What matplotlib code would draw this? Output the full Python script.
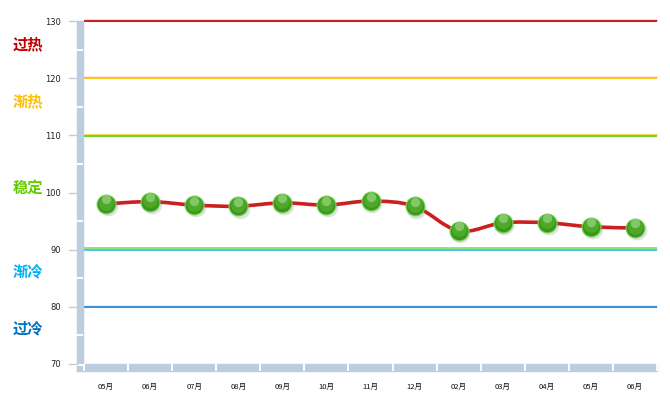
import numpy as np
import matplotlib
matplotlib.use("Agg")
import matplotlib.pyplot as plt
from matplotlib.path import Path
from matplotlib.patches import PathPatch, Rectangle

plt.rcParams['font.family'] = ['Noto Sans CJK SC', 'DejaVu Sans']

# data
months = ['05月', '06月', '07月', '08月', '09月', '10月', '11月', '12月',
          '02月', '03月', '04月', '05月', '06月']
values = [98.0, 98.4, 97.8, 97.6, 98.2, 97.8, 98.5, 97.6,
          93.3, 94.7, 94.7, 94.0, 93.8]

levels = [130, 120, 110, 90, 80]
level_colors = ['#cc1f1f', '#ffc41a', '#66d633', '#4cc6f0', '#3d8fdb']
level_tops = ['#f08080', '#f0a0a0', '#ffe060', '#a8e890', '#a8d0f0']

zones = ['过热', '渐热', '稳定', '渐冷', '过冷']
zone_y = [126.1, 116.2, 101.0, 86.4, 76.4]
zone_colors = ['#c00000', '#ffc000', '#66cc00', '#00b0f0', '#0070c0']

W, H = 670, 402
fig = plt.figure(figsize=(W / 100, H / 100), dpi=100)
ax = fig.add_axes([84 / W, 1 - 365 / H, (657 - 84) / W, (365 - 22) / H])
ax.set_xlim(0, len(months))
ax.set_ylim(70, 130)
ax.axis('off')

# threshold lines
for lv, c, top in zip(levels, level_colors, level_tops):
    ax.plot([0, len(months)], [lv + 0.17, lv + 0.17], color=top, lw=1.0, zorder=2,
            solid_capstyle='butt', clip_on=False)
    ax.plot([0, len(months)], [lv - 0.05, lv - 0.05], color=c, lw=1.5, zorder=2,
            solid_capstyle='butt', clip_on=False)
ax.plot([0, len(months)], [90.3, 90.3], color='#88dd55', lw=1.2, zorder=2)

# left wall and bottom floor, split by white gaps
wall = '#bccddf'
fig.patches.append(Rectangle((77 / W, (H - 372) / H), 6 / W, 350 / H,
                             transform=fig.transFigure, color=wall, zorder=0))
fig.patches.append(Rectangle((77 / W, (H - 372) / H), 580 / W, 7 / H,
                             transform=fig.transFigure, color=wall, zorder=0))
for y0 in range(75, 130, 10):
    py = ax.transData.transform((0, y0))[1]
    fig.lines.append(plt.Line2D([77 / W, 83 / W], [py / H, py / H],
                                transform=fig.transFigure, color='white', lw=1.4,
                                solid_capstyle='butt'))
fig.lines.append(plt.Line2D([77 / W, 83 / W], [(H - 366) / H, (H - 366) / H],
                            transform=fig.transFigure, color='white', lw=1.4))
for i in range(len(months) + 1):
    px = ax.transData.transform((i, 0))[0]
    fig.lines.append(plt.Line2D([px / W, px / W], [(H - 372) / H, (H - 365) / H],
                                transform=fig.transFigure, color='white', lw=1.4,
                                solid_capstyle='butt'))

# y ticks
for v in range(70, 131, 10):
    py = ax.transData.transform((0, v))[1]
    fig.lines.append(plt.Line2D([69 / W, 77 / W], [py / H, py / H],
                                transform=fig.transFigure, color='#bccddf', lw=1))
    fig.text(61 / W, py / H, str(v), ha='right', va='center', fontsize=6,
             family='DejaVu Sans', color='#222222')

# x labels
xs = np.arange(len(months)) + 0.5
for x, m in zip(xs, months):
    px = ax.transData.transform((x, 0))[0]
    fig.text(px / W, (H - 387) / H, m, ha='center', va='center', fontsize=5.5,
             color='#111111')

# zone labels
for z, zy, c in zip(zones, zone_y, zone_colors):
    py = ax.transData.transform((0, zy))[1]
    fig.text(13 / W, py / H, z, ha='left', va='center', fontsize=11,
             fontweight='bold', color=c)

# smooth line via Catmull-Rom bezier segments
pts = np.column_stack([xs, values])
verts = [pts[0]]
codes = [Path.MOVETO]
for i in range(len(pts) - 1):
    p0 = pts[i - 1] if i > 0 else pts[i]
    p1, p2 = pts[i], pts[i + 1]
    p3 = pts[i + 2] if i + 2 < len(pts) else pts[i + 1]
    c1 = p1 + (p2 - p0) / 6
    c2 = p2 - (p3 - p1) / 6
    verts += [c1, c2, p2]
    codes += [Path.CURVE4] * 3
ax.add_patch(PathPatch(Path(verts, codes), fill=False, edgecolor='#cc2020', lw=2.6,
                       zorder=3, capstyle='round'))

# spherical markers
vals = np.array(values)
ax.scatter(xs + 0.04, vals - 0.4, s=200, color='#777777', alpha=0.22,
           zorder=4, linewidths=0)
ax.scatter(xs, vals, s=185, color='#3a961c', edgecolors='#79d85a', linewidths=0.8,
           zorder=5)
ax.scatter(xs, vals + 0.25, s=115, color='#4ea82a', linewidths=0, zorder=6)
ax.scatter(xs, vals + 0.8, s=45, marker='o', color='#9ad680',
           linewidths=0, zorder=7, alpha=0.7)

fig.savefig('out.png', dpi=100)
